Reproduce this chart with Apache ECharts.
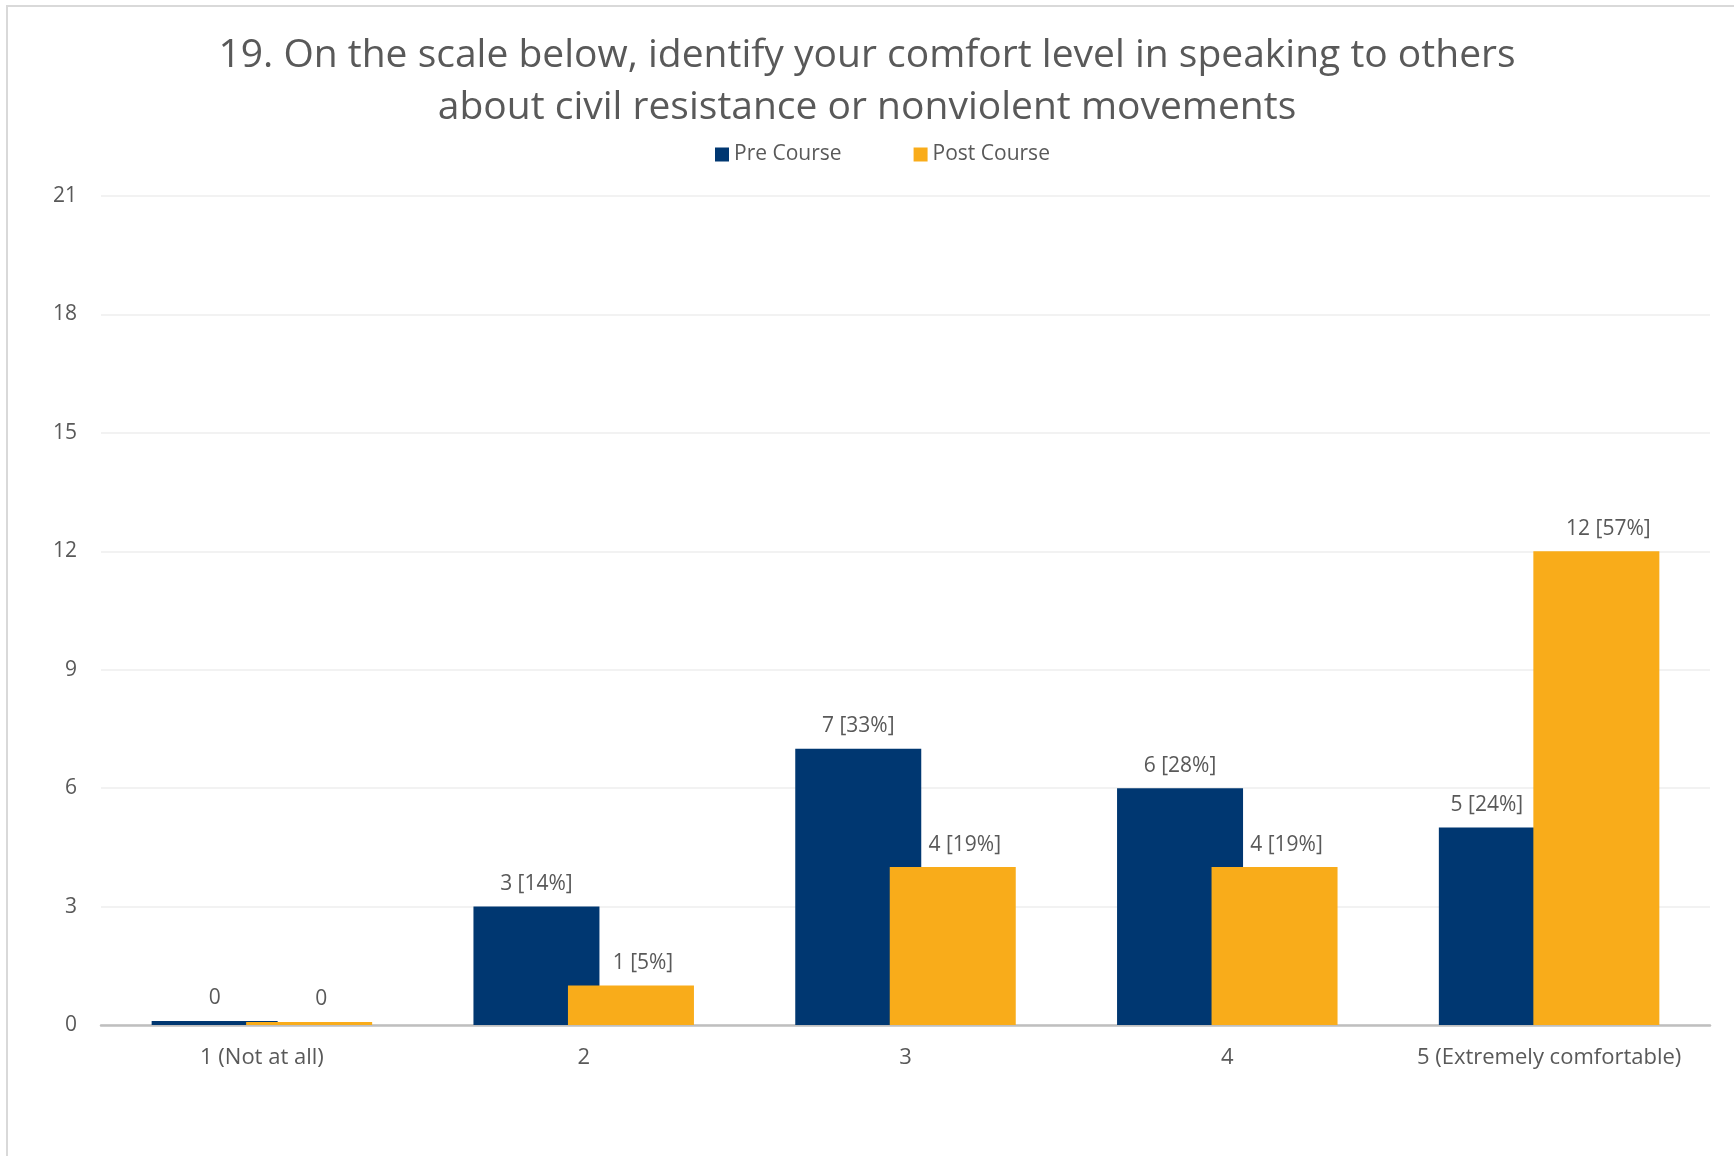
<!DOCTYPE html>
<html>
<head>
<meta charset="utf-8">
<script src="https://cdn.jsdelivr.net/npm/echarts@6/dist/echarts.min.js"></script>
<style>
  html, body { margin: 0; padding: 0; background: #ffffff; }
  #frame { position: absolute; left: 6px; top: 5px; width: 1728px; height: 1151px; border-left: 2px solid #d9d9d9; border-top: 2px solid #d9d9d9; box-sizing: border-box; }
  #chart { position: absolute; left: 0; top: 0; width: 1734px; height: 1156px; }
</style>
</head>
<body>
<div id="frame"></div>
<div id="chart"></div>
<script>
const titleText = "19. On the scale below, identify your comfort level in speaking to others\nabout civil resistance or nonviolent movements";
const categories = ["1 (Not at all)", "2", "3", "4", "5 (Extremely comfortable)"];
const seriesNames = ["Pre Course", "Post Course"];
const preValues = [0, 3, 7, 6, 5];
const postValues = [0, 1, 4, 4, 12];
const prePercents = [null, "14%", "33%", "28%", "24%"];
const postPercents = [null, "5%", "19%", "19%", "57%"];
const yTicks = { min: 0, max: 21, interval: 3 };

const FONT = "'Open Sans', 'Noto Sans', sans-serif";
const TXT = "#595959";

function fmt(perc) {
  return function (p) {
    const pc = perc[p.dataIndex];
    return pc ? p.value + " [" + pc + "]" : String(p.value);
  };
}

// Pre Course label next to a taller Post Course bar is nudged left so it does not overlap it
const preData = preValues.map(function (v, i) {
  return postValues[i] > v + 3 ? { value: v, label: { offset: [-15, 0] } } : v;
});

const chart = echarts.init(document.getElementById("chart"), null, { renderer: "canvas" });
chart.setOption({
  backgroundColor: "transparent",
  animation: false,
  title: {
    text: titleText,
    left: "center",
    top: 25,
    textStyle: { fontFamily: FONT, fontSize: 39, fontWeight: "normal", color: TXT, lineHeight: 52 }
  },
  legend: {
    data: seriesNames,
    top: 139,
    left: 710,
    itemWidth: 14,
    itemHeight: 14,
    itemGap: 72,
    icon: "rect",
    textStyle: { fontFamily: FONT, fontSize: 21, color: TXT }
  },
  grid: { left: 101, right: 24, top: 196, bottom: 131, containLabel: false },
  xAxis: {
    type: "category",
    data: categories,
    axisLine: { lineStyle: { color: "#bfbfbf", width: 2.5 } },
    axisTick: { show: false },
    axisLabel: { interval: 0, fontFamily: FONT, fontSize: 22, color: TXT, margin: 22 }
  },
  yAxis: {
    type: "value",
    min: yTicks.min,
    max: yTicks.max,
    interval: yTicks.interval,
    axisLine: { show: false },
    axisTick: { show: false },
    splitLine: { lineStyle: { color: "#eeeeee", width: 1.5 } },
    axisLabel: { fontFamily: FONT, fontSize: 21, color: TXT, margin: 24 }
  },
  series: [
    {
      name: seriesNames[0],
      type: "bar",
      data: preData,
      barWidth: 126,
      barGap: "-25%",
      barMinHeight: 4,
      itemStyle: { color: "#003771" },
      label: { show: true, position: "top", distance: 12, formatter: fmt(prePercents), fontFamily: FONT, fontSize: 21, color: TXT }
    },
    {
      name: seriesNames[1],
      type: "bar",
      data: postValues,
      barWidth: 126,
      barGap: "-25%",
      barMinHeight: 3,
      itemStyle: { color: "#f9ac1a" },
      label: { show: true, position: "top", distance: 12, offset: [12, 0], formatter: fmt(postPercents), fontFamily: FONT, fontSize: 21, color: TXT }
    }
  ]
});
</script>
</body>
</html>
